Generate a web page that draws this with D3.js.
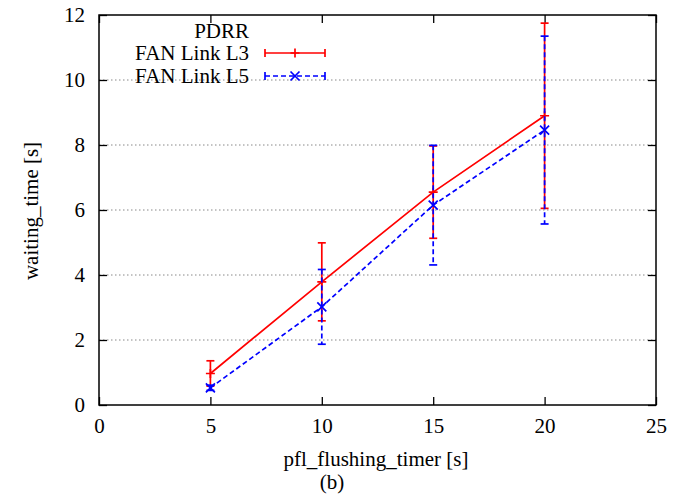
<!DOCTYPE html>
<html>
<head>
<meta charset="utf-8">
<script src="https://cdn.jsdelivr.net/npm/d3@7"></script>
<style>
  html, body { margin: 0; padding: 0; background: #fff; }
</style>
</head>
<body>
<svg id="chart" width="686" height="495"></svg>
<script>
const xValues = [5, 10, 15, 20];
const l3Mean = [0.97, 3.79, 6.55, 8.9];
const l3Err  = [0.39, 1.2, 1.42, 2.85];
const l5Mean = [0.53, 3.02, 6.15, 8.46];
const l5Err  = [0.08, 1.15, 1.84, 2.89];
const xTicks = [0, 5, 10, 15, 20, 25];
const yTicks = [0, 2, 4, 6, 8, 10, 12];
const seriesNames = ["FAN Link L3", "FAN Link L5"];
const legendTitle = "PDRR";
const xLabel = "pfl_flushing_timer [s]";
const yLabel = "waiting_time [s]";
const caption = "(b)";

const FONT = "'Liberation Serif', 'Times New Roman', serif";
const svg = d3.select("#chart");
const L = 99, R = 656, T = 15, B = 405;
const x = d3.scaleLinear().domain([0, 25]).range([L, R]);
const y = d3.scaleLinear().domain([0, 12]).range([B, T]);

// grid
svg.append("g").selectAll("line").data(yTicks.filter(d => d > 0 && d < 12)).join("line")
  .attr("x1", L).attr("x2", R).attr("y1", d => y(d)).attr("y2", d => y(d))
  .attr("stroke", "#888").attr("stroke-width", 1).attr("stroke-dasharray", "1.5,2.5");

// axes (ticks inward)
const fs = 21;
const ax = svg.append("g").attr("transform", `translate(0,${B})`)
  .call(d3.axisBottom(x).tickValues(xTicks).tickSize(-8).tickPadding(13).tickFormat(d3.format("d")));
const axTop = svg.append("g").attr("transform", `translate(0,${T})`)
  .call(d3.axisTop(x).tickValues(xTicks).tickSize(-8).tickFormat(""));
const ay = svg.append("g").attr("transform", `translate(${L},0)`)
  .call(d3.axisLeft(y).tickValues(yTicks).tickSize(-8).tickPadding(14).tickFormat(d3.format("d")));
const ayR = svg.append("g").attr("transform", `translate(${R},0)`)
  .call(d3.axisRight(y).tickValues(yTicks).tickSize(-8).tickFormat(""));
[ax, axTop, ay, ayR].forEach(g => {
  g.select(".domain").remove();
  g.attr("font-family", null).attr("font-size", null);
  g.selectAll(".tick line").attr("stroke", "#000").attr("stroke-width", 1.3);
  g.selectAll("text").style("font-size", fs + "px").style("font-family", FONT).attr("fill", "#000");
});
ay.selectAll("text").attr("dy", "0.33em");

// border
svg.append("rect").attr("x", L).attr("y", T).attr("width", R - L).attr("height", B - T)
  .attr("fill", "none").attr("stroke", "#000").attr("stroke-width", 1.5);

function txt(g, xx, yy, anchor, s) {
  return g.append("text").attr("x", xx).attr("y", yy).attr("text-anchor", anchor)
    .style("font-family", FONT).style("font-size", fs + "px").attr("fill", "#000").text(s);
}

// labels
txt(svg, 376, 466, "middle", xLabel);
txt(svg, 332, 489, "middle", caption);
txt(svg, 0, 0, "middle", yLabel).attr("transform", "translate(38,211) rotate(-90)");

const series = [
  { name: seriesNames[0], mean: l3Mean, err: l3Err, color: "#ff0000", dash: null, marker: "plus" },
  { name: seriesNames[1], mean: l5Mean, err: l5Err, color: "#0000ff", dash: "5,3", marker: "cross" }
];
const cap = 4, ms = 4.5;
function drawMarker(g, type, cx, cy, color) {
  const p = type === "plus"
    ? `M${cx - ms},${cy}H${cx + ms}M${cx},${cy - ms}V${cy + ms}`
    : `M${cx - ms},${cy - ms}L${cx + ms},${cy + ms}M${cx - ms},${cy + ms}L${cx + ms},${cy - ms}`;
  g.append("path").attr("d", p).attr("stroke", color).attr("stroke-width", 1.7).attr("fill", "none");
}

series.forEach(s => {
  const g = svg.append("g");
  const pts = xValues.map((xv, i) => [xv, s.mean[i], s.err[i]]);
  g.append("path").datum(pts)
    .attr("d", d3.line().x(d => x(d[0])).y(d => y(d[1])))
    .attr("fill", "none").attr("stroke", s.color).attr("stroke-width", 1.7)
    .attr("stroke-dasharray", s.dash);
  pts.forEach(d => {
    const cx = x(d[0]), y1 = y(d[1] + d[2]), y0 = y(d[1] - d[2]);
    g.append("line").attr("x1", cx).attr("x2", cx).attr("y1", y1).attr("y2", y0)
      .attr("stroke", s.color).attr("stroke-width", 1.7).attr("stroke-dasharray", s.dash);
    [y1, y0].forEach(yy => g.append("line").attr("x1", cx - cap).attr("x2", cx + cap)
      .attr("y1", yy).attr("y2", yy).attr("stroke", s.color).attr("stroke-width", 1.7));
    drawMarker(g, s.marker, cx, y(d[1]), s.color);
  });
});

// legend
const lg = svg.append("g");
txt(lg, 249, 38, "end", legendTitle);
series.forEach((s, i) => {
  const yy = 53 + i * 23;
  txt(lg, 249, yy + 7, "end", s.name);
  lg.append("line").attr("x1", 265).attr("x2", 325).attr("y1", yy).attr("y2", yy)
    .attr("stroke", s.color).attr("stroke-width", 1.7).attr("stroke-dasharray", s.dash);
  [265, 325].forEach(xx => lg.append("line").attr("x1", xx).attr("x2", xx).attr("y1", yy - cap).attr("y2", yy + cap)
    .attr("stroke", s.color).attr("stroke-width", 1.7));
  drawMarker(lg, s.marker, 295, yy, s.color);
});
</script>
</body>
</html>
